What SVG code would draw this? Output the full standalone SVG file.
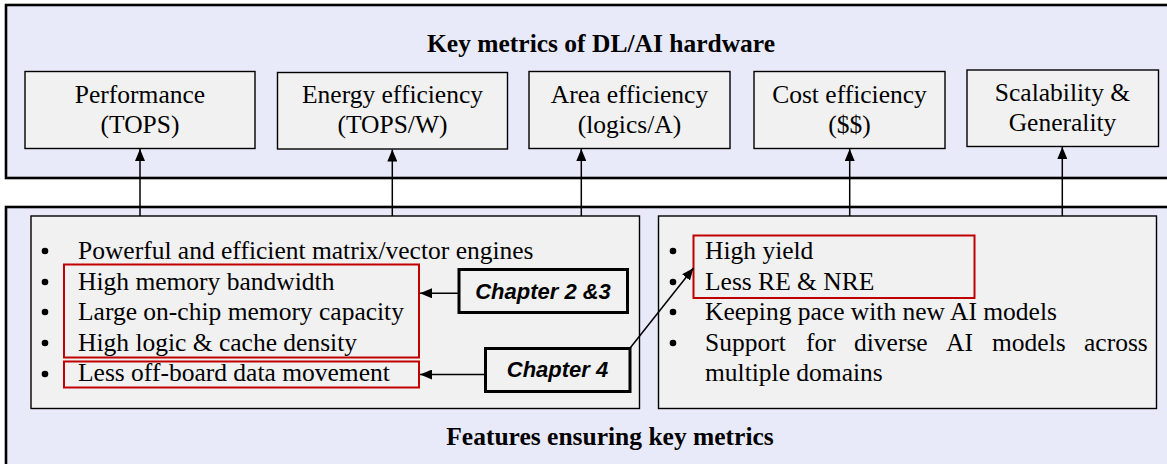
<svg xmlns="http://www.w3.org/2000/svg" width="1167" height="464" viewBox="0 0 1167 464">
  <style>
    .panel { fill: #e9eaf9; stroke: #000; stroke-width: 2.6; }
    .box { fill: #f1f1f1; stroke: #000; stroke-width: 1.4; }
    .hl { fill: none; stroke: #c00000; stroke-width: 2; }
    .chap { fill: #f1f1f1; stroke: #000; stroke-width: 3; }
    .t { font-family: "Liberation Serif", "Times New Roman", serif; font-size: 25.5px; fill: #000; }
    .b { font-family: "Liberation Serif", "Times New Roman", serif; font-size: 25.5px; fill: #000; }
    .title { font-family: "Liberation Serif", "Times New Roman", serif; font-size: 25.5px; font-weight: bold; fill: #000; }
    .ct { font-family: "Liberation Sans", Arial, sans-serif; font-size: 22px; font-weight: bold; font-style: italic; fill: #000; }
    .wire { stroke: #000; stroke-width: 1.5; fill: none; }
    .dot { fill: #000; }
  </style>
  <defs>
    <marker id="arrow" markerUnits="userSpaceOnUse" markerWidth="12" markerHeight="10" refX="12" refY="5" orient="auto">
      <path d="M0,0 L12,5 L0,10 z" fill="#000"/>
    </marker>
  </defs>

  <!-- upper panel: key metrics -->
  <g id="metrics-panel">
    <rect class="panel" x="6" y="5" width="1170" height="173"/>
    <text class="title" x="601" y="52" text-anchor="middle">Key metrics of DL/AI hardware</text>
  </g>

  <!-- lower panel: features -->
  <g id="features-panel">
    <rect class="panel" x="6" y="207" width="1170" height="270"/>
    <text class="title" x="610" y="445" text-anchor="middle">Features ensuring key metrics</text>
  </g>

  <g id="performance">
    <rect class="box" x="25" y="71.5" width="230" height="77"/>
    <text class="t" x="140" y="103" text-anchor="middle">Performance</text>
    <text class="t" x="140" y="133" text-anchor="middle">(TOPS)</text>
  </g>
  <g id="energy">
    <rect class="box" x="277.5" y="72.5" width="230" height="76.5"/>
    <text class="t" x="392.5" y="103" text-anchor="middle">Energy efficiency</text>
    <text class="t" x="392.5" y="133" text-anchor="middle">(TOPS/W)</text>
  </g>
  <g id="area">
    <rect class="box" x="529" y="71.5" width="201" height="77"/>
    <text class="t" x="629.5" y="103" text-anchor="middle">Area efficiency</text>
    <text class="t" x="629.5" y="133" text-anchor="middle">(logics/A)</text>
  </g>
  <g id="cost">
    <rect class="box" x="754" y="71.5" width="191" height="77"/>
    <text class="t" x="849.5" y="103" text-anchor="middle">Cost efficiency</text>
    <text class="t" x="849.5" y="133" text-anchor="middle">($$)</text>
  </g>
  <g id="scalability">
    <rect class="box" x="967" y="70" width="191.5" height="76.5"/>
    <text class="t" x="1062.5" y="101" text-anchor="middle">Scalability &amp;</text>
    <text class="t" x="1062.5" y="131" text-anchor="middle">Generality</text>
  </g>

  <!-- compute / memory features -->
  <g id="hw-features">
    <rect class="box" x="31" y="216" width="608.5" height="192.5"/>
    <circle class="dot" cx="45" cy="251" r="3.3"/>
    <circle class="dot" cx="45" cy="282" r="3.3"/>
    <circle class="dot" cx="45" cy="312" r="3.3"/>
    <circle class="dot" cx="45" cy="343" r="3.3"/>
    <circle class="dot" cx="45" cy="374" r="3.3"/>
    <text class="b" x="78" y="259">Powerful and efficient matrix/vector engines</text>
    <text class="b" x="78" y="289.5">High memory bandwidth</text>
    <text class="b" x="78" y="320">Large on-chip memory capacity</text>
    <text class="b" x="78" y="350.5">High logic &amp; cache density</text>
    <text class="b" x="78" y="381">Less off-board data movement</text>
    <rect class="hl" x="64" y="264.5" width="355" height="93"/>
    <rect class="hl" x="64" y="361.5" width="355" height="26"/>
  </g>

  <!-- cost / generality features -->
  <g id="biz-features">
    <rect class="box" x="658.5" y="216" width="498" height="192.5"/>
    <circle class="dot" cx="673" cy="251" r="3.3"/>
    <circle class="dot" cx="673" cy="282" r="3.3"/>
    <circle class="dot" cx="673" cy="312" r="3.3"/>
    <circle class="dot" cx="673" cy="343" r="3.3"/>
    <text class="b" x="705" y="259">High yield</text>
    <text class="b" x="705" y="289.5">Less RE &amp; NRE</text>
    <text class="b" x="705" y="320">Keeping pace with new AI models</text>
    <text class="b" y="350.5"><tspan x="705">Support</tspan><tspan x="806">for</tspan><tspan x="854">diverse</tspan><tspan x="946">AI</tspan><tspan x="992">models</tspan><tspan x="1084">across</tspan></text>
    <text class="b" x="705" y="381">multiple domains</text>
    <rect class="hl" x="693.5" y="235.5" width="281" height="62.5"/>
  </g>

  <g id="chapter-2-3">
    <rect class="chap" x="459" y="269.5" width="168.5" height="43"/>
    <text class="ct" x="543" y="299" text-anchor="middle">Chapter 2 &amp;3</text>
  </g>
  <g id="chapter-4">
    <rect class="chap" x="485.5" y="348.5" width="144.5" height="43"/>
    <text class="ct" x="557.5" y="377" text-anchor="middle">Chapter 4</text>
  </g>

  <!-- connectors -->
  <g id="connectors">
    <line class="wire" x1="140" y1="216" x2="140" y2="149" marker-end="url(#arrow)"/>
    <line class="wire" x1="392.3" y1="216" x2="392.3" y2="149.5" marker-end="url(#arrow)"/>
    <line class="wire" x1="581.3" y1="216" x2="581.3" y2="149" marker-end="url(#arrow)"/>
    <line class="wire" x1="849.7" y1="216" x2="849.7" y2="149" marker-end="url(#arrow)"/>
    <line class="wire" x1="1062.3" y1="216" x2="1062.3" y2="147" marker-end="url(#arrow)"/>
    <line class="wire" x1="459" y1="293.3" x2="420" y2="293.3" marker-end="url(#arrow)"/>
    <line class="wire" x1="485.5" y1="374.5" x2="420" y2="374.5" marker-end="url(#arrow)"/>
    <line class="wire" x1="630.5" y1="347.5" x2="693.5" y2="268" marker-end="url(#arrow)"/>
  </g>
</svg>
